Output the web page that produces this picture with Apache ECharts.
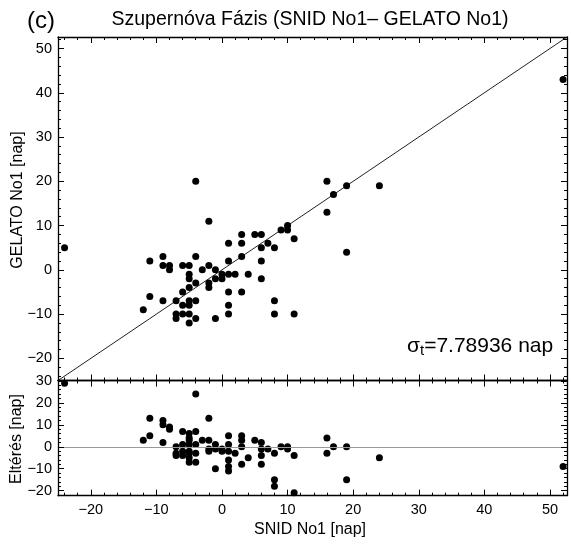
<!DOCTYPE html>
<html>
<head>
<meta charset="utf-8">
<script src="https://cdn.jsdelivr.net/npm/echarts@6/dist/echarts.min.js"></script>
<style>
html,body{margin:0;padding:0;background:#fff;}
#chart{width:571px;height:544px;}
</style>
</head>
<body>
<div id="chart"></div>
<script>
// ---- data ----
const snid = [-4,-2,-24,3,5,6,1,3,3,1,-11,-9,-4,-9,-8,-8,-6,-5,-3,-2,-1,-5,-5,-4,-2,-2,-1,0,0,1,2,4,-5,-6,-7,-9,-11,-12,-6,-5,-5,-4,-7,-7,-6,-5,-4,-5,-1,1,1,1,3,16,19,24,17,16,10,10,9,11,6,7,8,6,6,8,8,11,19,52];
const gelato = [20,11,5,8,8,8,6,6,3,2,2,3,3,1,1,0,1,1,0,1,0,-1,-2,-3,-3,-4,-2,-1,-2,-1,-1,-1,-4,-5,-7,-7,-6,-9,-8,-7,-8,-7,-10,-11,-10,-10,-11,-12,-11,-10,-8,-5,-5,20,19,19,17,13,10,9,9,7,5,6,5,2,-2,-7,-10,-10,4,43];
const residual = [24,13,29,5,3,2,5,3,0,1,13,12,7,10,9,8,7,6,3,3,1,4,3,1,-1,-2,-1,-1,-2,-2,-3,-5,1,1,0,2,5,3,-2,-2,-3,-3,-3,-4,-4,-5,-7,-7,-10,-11,-9,-6,-8,4,0,-5,0,-3,0,-1,0,-4,-1,-1,-3,-4,-8,-15,-18,-21,-15,-9];
const xTickValues = [-20,-10,0,10,20,30,40,50];
const yTickValues = [-20,-10,0,10,20,30,40,50];
const resTickValues = [-20,-10,0,10,20,30];
const X_RANGE = [-25, 52.6];
const Y_RANGE = [-25, 52.6];
const RES_RANGE = [-22.3, 30.2];
const sigmaText = '=7.78936 nap';

// ---- chart ----
const FONT = 'Liberation Sans';
function minorVals(range, step) {
  const out = [];
  for (let v = Math.ceil(range[0] / step) * step; v <= range[1]; v += step) out.push(v);
  return out;
}
function axis(kind, grid, pos, range, values, len, labels, line) {
  return {
    type: 'value', gridIndex: grid, position: pos,
    min: range[0], max: range[1],
    splitLine: { show: false },
    axisLine: { show: line, onZero: false, lineStyle: { color: '#000', width: 1.3 } },
    axisTick: { show: true, inside: true, length: len, customValues: values, lineStyle: { color: '#000', width: 1 } },
    axisLabel: { show: labels, customValues: values, color: '#000', fontFamily: FONT, fontSize: 14.5, margin: kind === 'x' ? 7 : 6,
      formatter: v => (v < 0 ? '\u2212' + Math.abs(v) : String(v)) },
    z: 10
  };
}
const xMinor = minorVals(X_RANGE, 2);
const yMinor = minorVals(Y_RANGE, 2);
const rMinor = minorVals(RES_RANGE, 2);

const xAxes = [
  axis('x', 0, 'bottom', X_RANGE, xTickValues, 6, false, true),
  axis('x', 0, 'bottom', X_RANGE, xMinor, 3, false, false),
  axis('x', 0, 'top', X_RANGE, xTickValues, 6, false, true),
  axis('x', 0, 'top', X_RANGE, xMinor, 3, false, false),
  axis('x', 1, 'bottom', X_RANGE, xTickValues, 6, true, true),
  axis('x', 1, 'bottom', X_RANGE, xMinor, 3, false, false),
  axis('x', 1, 'top', X_RANGE, xTickValues, 6, false, true),
  axis('x', 1, 'top', X_RANGE, xMinor, 3, false, false)
];
const yAxes = [
  axis('y', 0, 'left', Y_RANGE, yTickValues, 6, true, true),
  axis('y', 0, 'left', Y_RANGE, yMinor, 3, false, false),
  axis('y', 0, 'right', Y_RANGE, yTickValues, 6, false, true),
  axis('y', 0, 'right', Y_RANGE, yMinor, 3, false, false),
  axis('y', 1, 'left', RES_RANGE, resTickValues, 6, true, true),
  axis('y', 1, 'left', RES_RANGE, rMinor, 3, false, false),
  axis('y', 1, 'right', RES_RANGE, resTickValues, 6, false, true),
  axis('y', 1, 'right', RES_RANGE, rMinor, 3, false, false)
];

const chart = echarts.init(document.getElementById('chart'), null, { renderer: 'canvas' });
chart.setOption({
  animation: false,
  backgroundColor: '#fff',
  grid: [
    { left: 58, right: 4, top: 37, height: 343.5 },
    { left: 58, right: 4, top: 380.5, height: 115.2 }
  ],
  xAxis: xAxes,
  yAxis: yAxes,
  series: [
    {
      type: 'line', xAxisIndex: 0, yAxisIndex: 0,
      data: [[X_RANGE[0], X_RANGE[0]], [X_RANGE[1], X_RANGE[1]]],
      symbol: 'none', lineStyle: { color: '#222', width: 1 }, z: 3, silent: true
    },
    {
      type: 'scatter', xAxisIndex: 0, yAxisIndex: 0,
      data: snid.map((x, i) => [x, gelato[i]]),
      symbol: 'circle', symbolSize: 7, itemStyle: { color: '#000', opacity: 1 }, z: 4
    },
    {
      type: 'scatter', xAxisIndex: 4, yAxisIndex: 4,
      data: snid.map((x, i) => [x, residual[i]]),
      symbol: 'circle', symbolSize: 7, itemStyle: { color: '#000', opacity: 1 }, z: 4,
      markLine: {
        silent: true, symbol: 'none', label: { show: false },
        lineStyle: { color: '#999', width: 1, type: 'solid' },
        data: [{ yAxis: 0 }]
      }
    }
  ],
  graphic: [
    { type: 'text', x: 310, y: 20, style: { text: 'Szupernóva Fázis (SNID No1\u2013 GELATO No1)', fontFamily: FONT, fontSize: 19.5, fill: '#000', align: 'center', verticalAlign: 'middle' } },
    { type: 'text', x: 41, y: 21, style: { text: '(c)', fontFamily: FONT, fontSize: 24, fill: '#000', align: 'center', verticalAlign: 'middle' } },
    { type: 'text', x: 18, y: 200, rotation: Math.PI / 2, style: { text: 'GELATO No1 [nap]', fontFamily: FONT, fontSize: 16, fill: '#000', align: 'center', verticalAlign: 'middle' } },
    { type: 'text', x: 17, y: 439, rotation: Math.PI / 2, style: { text: 'Eltérés [nap]', fontFamily: FONT, fontSize: 16, fill: '#000', align: 'center', verticalAlign: 'middle' } },
    { type: 'text', x: 310, y: 530, style: { text: 'SNID No1 [nap]', fontFamily: FONT, fontSize: 16, fill: '#000', align: 'center', verticalAlign: 'middle' } },
    { type: 'text', x: 407, y: 346, z: 20, style: {
        text: '{s|σ}{t|t}{s|' + sigmaText + '}', align: 'left', verticalAlign: 'middle',
        rich: {
          s: { fontFamily: FONT, fontSize: 21, fill: '#000', lineHeight: 25, verticalAlign: 'middle' },
          t: { fontFamily: FONT, fontSize: 15, fill: '#000', lineHeight: 15, verticalAlign: 'bottom' }
        } } }
  ]
});
</script>
</body>
</html>
